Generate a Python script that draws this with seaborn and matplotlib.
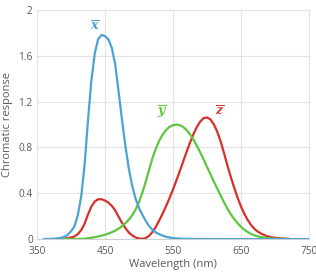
import matplotlib
matplotlib.use("Agg")
import matplotlib.pyplot as plt
import seaborn as sns

# responses, 5 nm steps
wl_blue = list(range(360, 655, 5)) + [700, 750]
blue = [0.0006, 0.0011, 0.0019, 0.0035, 0.0065, 0.0106, 0.0201, 0.0362,
        0.0679, 0.1102, 0.2074, 0.3713, 0.6456, 1.0391, 1.3856, 1.6230,
        1.7471, 1.7826, 1.7721, 1.7441, 1.6692, 1.5281, 1.2876, 1.0419,
        0.8130, 0.6162, 0.4652, 0.3533, 0.2720, 0.2123, 0.1582, 0.1117,
        0.0783, 0.0573, 0.0422, 0.0298, 0.0203, 0.0134, 0.0088, 0.0058,
        0.0039, 0.0028, 0.0021, 0.0018, 0.0017, 0.0014, 0.0011, 0.0010,
        0.0008, 0.0006, 0.0003, 0.0002, 0.0002, 0.0001, 0.0001, 0.0, 0.0,
        0.0, 0.0, 0.0, 0.0]

wl_red = list(range(380, 725, 5))
red = [0.0014, 0.0022, 0.0042, 0.0077, 0.0143, 0.0232, 0.0435, 0.0776,
       0.1344, 0.2148, 0.2839, 0.3285, 0.3483, 0.3481, 0.3362, 0.3187,
       0.2908, 0.2511, 0.1954, 0.1421, 0.0956, 0.0580, 0.0320, 0.0147,
       0.0049, 0.0024, 0.0093, 0.0291, 0.0633, 0.1096, 0.1655, 0.2258,
       0.2904, 0.3597, 0.4335, 0.5121, 0.5945, 0.6784, 0.7621, 0.8425,
       0.9163, 0.9786, 1.0263, 1.0567, 1.0622, 1.0456, 1.0026, 0.9384,
       0.8545, 0.7514, 0.6424, 0.5419, 0.4479, 0.3608, 0.2835, 0.2187,
       0.1649, 0.1212, 0.0874, 0.0636, 0.0468, 0.0329, 0.0227, 0.0158,
       0.0114, 0.0081, 0.0058, 0.0041, 0.0029]

wl_green = list(range(385, 725, 5))
green = [0.0001, 0.0001, 0.0002, 0.0004, 0.0006, 0.0012, 0.0022, 0.0040,
         0.0073, 0.0116, 0.0168, 0.0230, 0.0298, 0.0380, 0.0480, 0.0600,
         0.0739, 0.0910, 0.1126, 0.1390, 0.1693, 0.2080, 0.2586, 0.3230,
         0.4073, 0.5030, 0.6082, 0.7100, 0.7932, 0.8620, 0.9149, 0.9540,
         0.9803, 0.9950, 1.0000, 0.9950, 0.9786, 0.9520, 0.9154, 0.8700,
         0.8163, 0.7570, 0.6949, 0.6310, 0.5668, 0.5030, 0.4412, 0.3810,
         0.3210, 0.2650, 0.2170, 0.1750, 0.1382, 0.1070, 0.0816, 0.0610,
         0.0446, 0.0320, 0.0232, 0.0170, 0.0119, 0.0082, 0.0057, 0.0041,
         0.0029, 0.0021, 0.0015, 0.0010]

x_ticks = [350, 450, 550, 650, 750]
y_ticks = [0, 0.4, 0.8, 1.2, 1.6, 2]
y_tick_labels = ["0", "0.4", "0.8", "1.2", "1.6", "2"]

BLUE = "#4ba3d3"
RED = "#d7302a"
GREEN = "#5cc63f"
GRID = "#e3e3e3"
TEXT = "#595959"

sns.set_theme(style="whitegrid")
plt.rcParams["font.family"] = ["Open Sans", "DejaVu Sans"]
plt.rcParams["mathtext.fontset"] = "dejavuserif"

fig = plt.figure(figsize=(3.16, 2.72), dpi=100)
ax = fig.add_axes([0.117, 0.121, 0.861, 0.842])

sns.lineplot(x=wl_red, y=red, color=RED, linewidth=1.6, ax=ax)
sns.lineplot(x=wl_green, y=green, color=GREEN, linewidth=1.6, ax=ax)
sns.lineplot(x=wl_blue, y=blue, color=BLUE, linewidth=1.6, ax=ax)

ax.set_xlim(350, 750)
ax.set_ylim(0, 2)
ax.set_xticks(x_ticks)
ax.set_yticks(y_ticks)
ax.set_yticklabels(y_tick_labels)
ax.tick_params(axis="both", labelsize=7.3, colors=TEXT, length=0)
ax.tick_params(axis="x", pad=5)
ax.tick_params(axis="y", pad=3)
ax.grid(True, color=GRID, linewidth=0.8)
for side in ax.spines.values():
    side.set_color(GRID)
    side.set_linewidth(0.8)
ax.spines["bottom"].set_color("#d0d0d0")

ax.set_xlabel("Wavelength (nm)", fontsize=8, color=TEXT)
ax.xaxis.set_label_coords(0.5, -0.087)
ax.set_ylabel("Chromatic response", fontsize=8, color=TEXT, labelpad=4)

ax.text(435, 1.86, r"$\overline{\mathbfit{x}}$", color=BLUE, fontsize=9,
        ha="center", va="center")
ax.text(534, 1.11, r"$\overline{\mathbfit{y}}$", color=GREEN, fontsize=9,
        ha="center", va="center")
ax.text(618, 1.11, r"$\overline{\mathbfit{z}}$", color=RED, fontsize=9,
        ha="center", va="center")

fig.savefig("out.png", dpi=100)
